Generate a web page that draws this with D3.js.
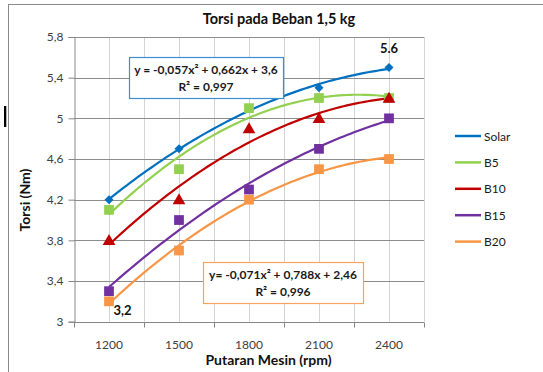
<!DOCTYPE html>
<html><head><meta charset="utf-8">
<script src="https://cdn.jsdelivr.net/npm/d3@7"></script>
<style>body{margin:0;background:#fff}svg{display:block}text{font-family:Lato,"Open Sans",sans-serif}</style>
</head><body><svg id="c" width="543" height="372"></svg>
<script>
const categories = ["1200","1500","1800","2100","2400"];
const seriesNames = ["Solar","B5","B10","B15","B20"];
const solar = [4.2, 4.7, 5.1, 5.3, 5.5];
const b5    = [4.1, 4.5, 5.1, 5.2, 5.2];
const b10   = [3.8, 4.2, 4.9, 5.0, 5.2];
const b15   = [3.3, 4.0, 4.3, 4.7, 5.0];
const b20   = [3.2, 3.7, 4.2, 4.5, 4.6];
const seriesValues = [solar, b5, b10, b15, b20];
const seriesColors = ["#0070C0", "#92D050", "#C00000", "#7030A0", "#F79646"];
const seriesMarkers = ["diamond", "square", "triangle", "square", "square"];
const yTicks = [3, 3.4, 3.8, 4.2, 4.6, 5, 5.4, 5.8];
const eq1 = ["y = -0,057x\u00B2 + 0,662x + 3,6", "R\u00B2 = 0,997"];
const eq2 = ["y= -0,071x\u00B2 + 0,788x + 2,46", "R\u00B2 = 0,996"];
const pointLabels = [{s:0, i:4, text:"5.6"}, {s:4, i:0, text:"3,2"}];

const svg = d3.select("#c");
const L = 74, R = 424, T = 37, B = 321.7;
const x = d3.scaleBand().domain(categories).range([L, R]).padding(0);
const bw = x.bandwidth();
const y = d3.scaleLinear().domain([3, 5.8]).range([B, T]);
const xc = c => x(c) + bw / 2;
const xt = d3.scaleLinear().domain([1, categories.length]).range([xc(categories[0]), xc(categories[categories.length-1])]);
const fmt = v => String(+v.toFixed(1)).replace(".", ",");

// outer frame + cursor artifact
svg.append("line").attr("x1",8.5).attr("x2",8.5).attr("y1",4).attr("y2",372).attr("stroke","#8a8a8a");
svg.append("line").attr("x1",8).attr("x2",543).attr("y1",4.5).attr("y2",4.5).attr("stroke","#8a8a8a");
svg.append("rect").attr("x",4).attr("y",106).attr("width",2.3).attr("height",21).attr("fill","#000");

// vertical gridlines (band edges and centers)
const vx = [];
categories.forEach(c => { vx.push(x(c)); vx.push(xc(c)); });
vx.push(R);
svg.append("g").selectAll("line").data(vx.slice(1)).join("line")
  .attr("x1", d => Math.round(d) + 0.5).attr("x2", d => Math.round(d) + 0.5)
  .attr("y1", T).attr("y2", B).attr("stroke", "#d4d4d4");
// horizontal gridlines
svg.append("g").selectAll("line").data(yTicks.slice(1)).join("line")
  .attr("x1", L).attr("x2", R).attr("y1", d => Math.round(y(d)) + 0.5).attr("y2", d => Math.round(y(d)) + 0.5)
  .attr("stroke", "#8c8c8c");

// axes
const yAxis = d3.axisLeft(y).tickValues(yTicks).tickFormat(fmt).tickSize(6).tickPadding(5);
const gy = svg.append("g").attr("transform", `translate(${L + 0.5},0)`).call(yAxis);
gy.select(".domain").attr("stroke", "#868686");
gy.selectAll(".tick line").attr("stroke", "#868686");
gy.selectAll(".tick text").attr("font-family", "Lato").attr("font-size", 12).attr("fill", "#404040");

const gx = svg.append("g").attr("transform", `translate(0,${Math.round(B) + 0.5})`);
gx.append("line").attr("x1", L).attr("x2", R).attr("stroke", "#868686");
gx.selectAll("line.tk").data(categories.map(c => x(c)).concat([R])).join("line").attr("class","tk")
  .attr("x1", d => Math.round(d) + 0.5).attr("x2", d => Math.round(d) + 0.5).attr("y1", 0).attr("y2", 5).attr("stroke", "#868686");
gx.selectAll("text").data(categories).join("text")
  .attr("x", d => xc(d)).attr("y", 26).attr("text-anchor", "middle")
  .attr("font-size", 12).attr("fill", "#404040").text(d => d);

// quadratic least squares fit
function quadFit(vals) {
  const xs = vals.map((v, i) => i + 1);
  let S = [0,0,0,0,0], Sy = [0,0,0];
  xs.forEach((xi, k) => {
    for (let p = 0; p < 5; p++) S[p] += Math.pow(xi, p);
    for (let p = 0; p < 3; p++) Sy[p] += Math.pow(xi, p) * vals[k];
  });
  const M = [[S[0],S[1],S[2],Sy[0]],[S[1],S[2],S[3],Sy[1]],[S[2],S[3],S[4],Sy[2]]];
  for (let i = 0; i < 3; i++) {
    for (let j = i + 1; j < 3; j++) {
      const f = M[j][i] / M[i][i];
      for (let k = i; k < 4; k++) M[j][k] -= f * M[i][k];
    }
  }
  const c = [0,0,0];
  for (let i = 2; i >= 0; i--) {
    let s = M[i][3];
    for (let k = i + 1; k < 3; k++) s -= M[i][k] * c[k];
    c[i] = s / M[i][i];
  }
  return t => c[0] + c[1] * t + c[2] * t * t;
}

const line = d3.line().x(d => xt(d[0])).y(d => y(d[1])).curve(d3.curveLinear);
const ts = d3.range(1, categories.length + 0.0001, 0.05);
const symType = {diamond: d3.symbolSquare, square: d3.symbolSquare, triangle: d3.symbolTriangle};
const symSize = {diamond: 40, square: 95, triangle: 70};

seriesValues.forEach((vals, si) => {
  const f = quadFit(vals);
  svg.append("path").datum(ts.map(t => [t, f(t)])).attr("d", line)
    .attr("fill", "none").attr("stroke", seriesColors[si]).attr("stroke-width", 2.2);
});
seriesValues.forEach((vals, si) => {
  const m = seriesMarkers[si];
  svg.append("g").selectAll("path").data(vals).join("path")
    .attr("transform", (d, i) => `translate(${xc(categories[i])},${y(d) + (m === "triangle" ? 1 : 0)})` + (m === "diamond" ? " rotate(45)" : ""))
    .attr("d", d3.symbol().type(symType[m]).size(symSize[m]))
    .attr("fill", seriesColors[si]);
});

// point labels
svg.append("text").attr("x", xc(categories[4])).attr("y", 53).attr("text-anchor","middle")
  .attr("font-size", 13).attr("font-weight","bold").attr("fill","#111").text(pointLabels[0].text);
svg.append("text").attr("x", 122.5).attr("y", 315).attr("text-anchor","middle")
  .attr("font-size", 13).attr("font-weight","bold").attr("fill","#111").text(pointLabels[1].text);

// equation boxes
function eqBox(x0, y0, w, h, stroke, lines) {
  svg.append("rect").attr("x", x0 + 0.5).attr("y", y0 + 0.5).attr("width", w).attr("height", h)
    .attr("fill", "#fff").attr("stroke", stroke).attr("stroke-width", 1.2);
  lines.forEach((t, i) => {
    svg.append("text").attr("x", x0 + w / 2).attr("y", y0 + 17 + i * 17).attr("text-anchor", "middle")
      .attr("font-size", 12).attr("font-weight", "bold").attr("fill", "#1a1a1a").text(t);
  });
}
eqBox(129, 57, 154, 41, "#3d8fd1", eq1);
eqBox(203, 262, 160, 41, "#f5a35f", eq2);

// legend
const lg = svg.append("g");
seriesNames.forEach((n, i) => {
  const ly = 136 + i * 26.4;
  lg.append("line").attr("x1", 455).attr("x2", 481).attr("y1", ly).attr("y2", ly)
    .attr("stroke", seriesColors[i]).attr("stroke-width", 2.5);
  lg.append("text").attr("x", 484).attr("y", ly + 4.5).attr("font-size", 12).attr("fill", "#1a1a1a").text(n);
});

// titles
svg.append("text").attr("x", 279).attr("y", 24).attr("text-anchor","middle")
  .attr("font-size", 14.5).attr("font-weight","bold").attr("fill","#111").text("Torsi pada Beban 1,5 kg");
svg.append("text").attr("x", 268.5).attr("y", 365).attr("text-anchor","middle")
  .attr("font-size", 14).attr("font-weight","bold").attr("fill","#111").text("Putaran Mesin (rpm)");
svg.append("text").attr("transform", "translate(30,200) rotate(-90)").attr("text-anchor","middle")
  .attr("font-size", 14).attr("font-weight","bold").attr("fill","#111").text("Torsi (Nm)");
</script></body></html>
